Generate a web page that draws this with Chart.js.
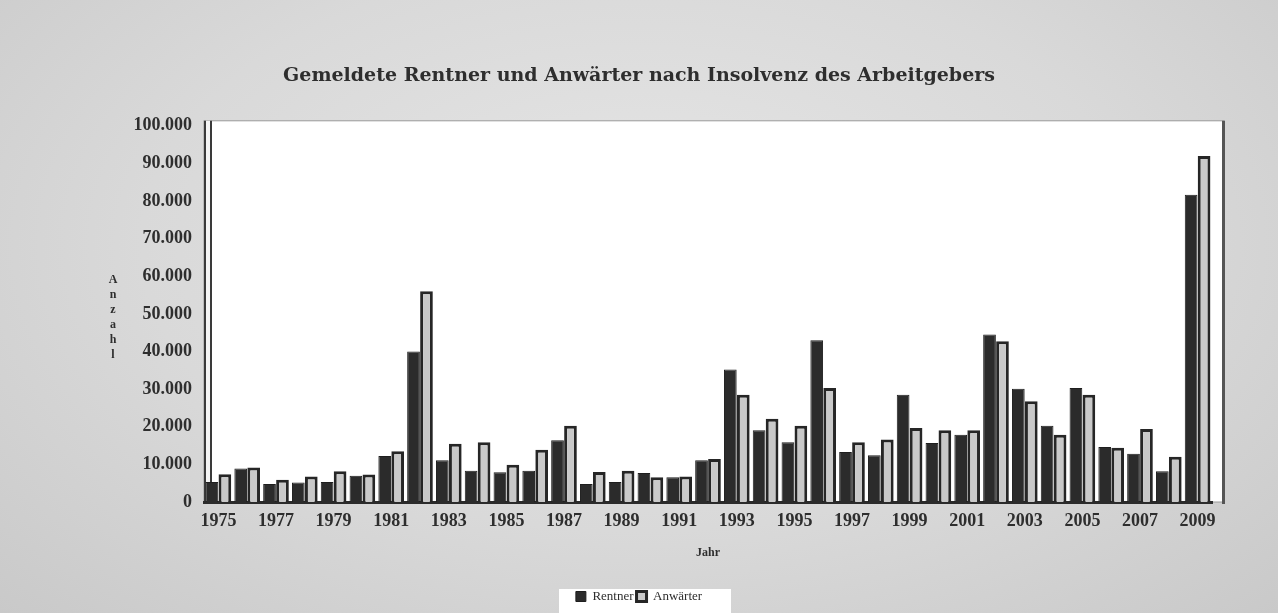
<!DOCTYPE html>
<html lang="de">
<head>
    <meta charset="UTF-8">
    <title>Gemeldete Rentner und Anwärter</title>
    <script src="https://cdn.jsdelivr.net/npm/chart.js"></script>
    <style>
        body {
            margin: 0;
            background: radial-gradient(ellipse at 50% 40%, #e6e6e6 0%, #d9d9d9 55%, #c9c9c9 100%);
        }
        .chart-container {
            width: 1278px;
            height: 613px;
        }
    </style>
</head>
<body>
    <div class="chart-container">
        <canvas id="insolvenzChart"></canvas>
    </div>

    <script>
        const years = ['1975', '1976', '1977', '1978', '1979', '1980', '1981', '1982', '1983', '1984',
            '1985', '1986', '1987', '1988', '1989', '1990', '1991', '1992', '1993', '1994',
            '1995', '1996', '1997', '1998', '1999', '2000', '2001', '2002', '2003', '2004',
            '2005', '2006', '2007', '2008', '2009'];

        const rentner = [5300, 8900, 4800, 5200, 5300, 7000, 12200, 40000, 11100, 8300,
            7900, 8300, 16400, 4800, 5300, 7700, 6600, 11100, 35200, 19100,
            15900, 43000, 13300, 12400, 28500, 15700, 17900, 44500, 30100, 20300,
            30300, 14600, 12800, 8200, 81700];

        const anwaerter = [7400, 9200, 5900, 6800, 8200, 7300, 13500, 56000, 15500, 15900,
            9900, 13900, 20300, 8000, 8300, 6600, 6800, 11400, 28500, 22100,
            20300, 30300, 15900, 16600, 19700, 19100, 19100, 42700, 26800, 17900,
            28500, 14400, 19400, 12000, 92000];

        const yMax = 100000;
        const yStep = 10000;

        const serif = "'Liberation Serif', 'DejaVu Serif', serif";
        const textColor = '#2e2e2e';

        // white plot wall + legend box, like the scanned Excel chart
        const backdrop = {
            id: 'backdrop',
            beforeDraw(chart) {
                const ctx = chart.ctx;
                const a = chart.chartArea;
                ctx.save();
                ctx.fillStyle = '#ffffff';
                ctx.fillRect(a.left, a.top - 5, a.right - a.left + 12, a.bottom - a.top + 5);
                ctx.strokeStyle = '#9a9a9a';
                ctx.lineWidth = 1;
                ctx.strokeRect(a.left, a.top - 5, a.right - a.left + 12, a.bottom - a.top + 5);
                // left wall
                ctx.fillStyle = '#3a3a3a';
                ctx.fillRect(a.left, a.top - 5, 2, a.bottom - a.top + 5);
                ctx.fillStyle = '#f4f4f4';
                ctx.fillRect(a.left + 2, a.top - 5, 4, a.bottom - a.top + 5);
                ctx.fillStyle = '#3a3a3a';
                ctx.fillRect(a.left + 6, a.top - 5, 2, a.bottom - a.top + 5);
                // right edge
                ctx.fillStyle = '#555555';
                ctx.fillRect(a.right + 10, a.top - 5, 3, a.bottom - a.top + 7);

                const lg = chart.legend;
                ctx.fillStyle = '#ffffff';
                ctx.fillRect(lg.left + (lg.width - 172) / 2 + 6, 589, 172, 24);
                ctx.restore();
            },
            afterDraw(chart) {
                // vertical stacked y-axis title
                const ctx = chart.ctx;
                const letters = ['A', 'n', 'z', 'a', 'h', 'l'];
                ctx.save();
                ctx.fillStyle = textColor;
                ctx.font = 'bold 12px ' + serif;
                ctx.textAlign = 'center';
                ctx.textBaseline = 'middle';
                letters.forEach((ch, i) => {
                    ctx.fillText(ch, 113, 280 + i * 15);
                });
                ctx.restore();
            }
        };

        const chart = new Chart(document.getElementById('insolvenzChart').getContext('2d'), {
            type: 'bar',
            data: {
                labels: years,
                datasets: [{
                    label: 'Rentner',
                    data: rentner,
                    backgroundColor: '#2b2b2b',
                    borderColor: '#1e1e1e',
                    borderWidth: 1,
                    barPercentage: 0.98,
                    categoryPercentage: 0.9
                }, {
                    label: 'Anwärter',
                    data: anwaerter,
                    backgroundColor: '#c9c9c9',
                    borderColor: '#262626',
                    borderWidth: 3,
                    barPercentage: 0.98,
                    categoryPercentage: 0.9
                }]
            },
            options: {
                responsive: true,
                maintainAspectRatio: false,
                animation: false,
                layout: {
                    padding: { left: 66, right: 66, top: 0, bottom: 0 }
                },
                plugins: {
                    title: {
                        display: true,
                        text: 'Gemeldete Rentner und Anwärter nach Insolvenz des Arbeitgebers',
                        color: textColor,
                        font: { family: "'DejaVu Serif', serif", size: 19, weight: 'bold' },
                        padding: { top: 65, bottom: 38 }
                    },
                    legend: {
                        position: 'bottom',
                        labels: {
                            color: textColor,
                            font: { family: serif, size: 13 },
                            boxWidth: 10,
                            boxHeight: 10,
                            padding: 3
                        }
                    },
                    tooltip: { enabled: false }
                },
                scales: {
                    x: {
                        grid: { display: false, drawTicks: false },
                        border: { color: '#2b2b2b', width: 3 },
                        ticks: {
                            color: textColor,
                            font: { family: serif, size: 18, weight: 'bold' },
                            autoSkip: false,
                            maxRotation: 0,
                            padding: 9,
                            callback: function (value, index) {
                                return index % 2 === 0 ? years[index] : '';
                            }
                        },
                        title: {
                            display: true,
                            text: 'Jahr',
                            color: textColor,
                            font: { family: serif, size: 12, weight: 'bold' },
                            padding: { top: 4, bottom: 27 }
                        }
                    },
                    y: {
                        min: 0,
                        max: yMax,
                        afterFit: function (scale) {
                            scale.width = 138;
                        },
                        grid: { display: false, drawTicks: false },
                        border: { display: false },
                        ticks: {
                            stepSize: yStep,
                            color: textColor,
                            padding: 12,
                            font: { family: serif, size: 18, weight: 'bold' },
                            callback: function (value) {
                                return value.toLocaleString('de-DE');
                            }
                        }
                    }
                }
            },
            plugins: [backdrop]
        });
    </script>
</body>
</html>
